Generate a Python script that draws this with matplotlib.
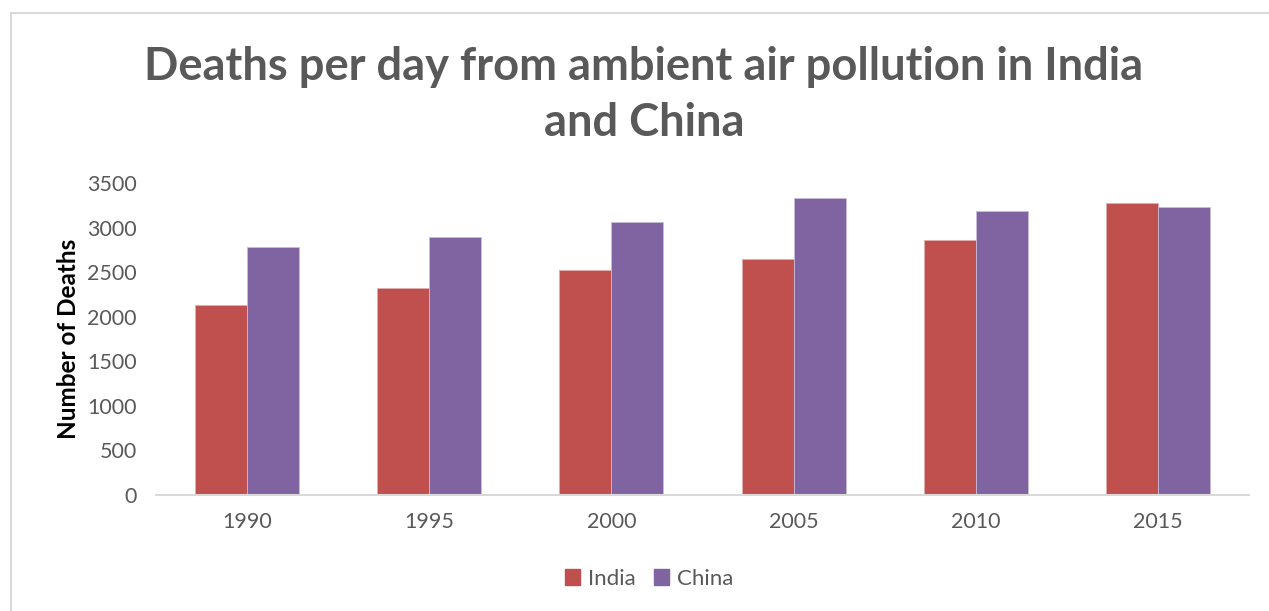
import numpy as np
import matplotlib
matplotlib.use('Agg')
import matplotlib.pyplot as plt
from matplotlib.lines import Line2D

#---------------------------------------------
# Data
#---------------------------------------------

years = ['1990', '1995', '2000', '2005', '2010', '2015']
india = [2130, 2320, 2525, 2650, 2857, 3276]
china = [2780, 2895, 3060, 3328, 3186, 3228]

india_color = '#C0504D'
china_color = '#8064A2'
text_gray = '#595959'

plt.rcParams['font.family'] = ['Lato', 'DejaVu Sans']

fig = plt.figure(figsize=(12.69, 6.11), dpi=100)
ax = fig.add_axes([156 / 1269, 1 - 495 / 611, 1093 / 1269, 312 / 611])

#---------------------------------------------
# Bars
#---------------------------------------------

x = np.arange(len(years))
width = 0.285
ax.bar(x - width / 2, india, width, color=india_color, label='India',
       edgecolor='#e0b0ae', linewidth=0.6)
ax.bar(x + width / 2, china, width, color=china_color, label='China',
       edgecolor='#c8bcd9', linewidth=0.6)

ax.set_xlim(-0.5, len(years) - 0.5)
ax.set_ylim(0, 3500)
ax.set_yticks(np.arange(0, 3501, 500))
ax.set_xticks(x)
ax.set_xticklabels(years)

for side in ['top', 'right', 'left']:
    ax.spines[side].set_visible(False)
ax.spines['bottom'].set_color('#d9d9d9')
ax.spines['bottom'].set_linewidth(1.5)

ax.tick_params(axis='both', length=0, labelsize=15.5, labelcolor=text_gray)
ax.tick_params(axis='y', pad=14)
ax.tick_params(axis='x', pad=12)

ax.set_ylabel('Number of Deaths', fontsize=17.5, fontweight='bold', color='black', labelpad=5)

#---------------------------------------------
# Title, legend and chart frame
#---------------------------------------------

fig.text(644 / 1269, 1 - 95 / 611, 'Deaths per day from ambient air pollution in India\nand China',
         ha='center', va='center', fontsize=32.6, fontweight='bold', color=text_gray,
         linespacing=1.42)

handles = [plt.Rectangle((0, 0), 1, 1, color=india_color),
           plt.Rectangle((0, 0), 1, 1, color=china_color)]
fig.legend(handles, ['India', 'China'], loc='center', bbox_to_anchor=(649 / 1269, 1 - 579 / 611),
           ncol=2, frameon=False, fontsize=16, labelcolor=text_gray,
           handlelength=0.7, handleheight=0.7, handletextpad=0.35, columnspacing=0.8)

fig.add_artist(Line2D([11 / 1269, 1], [1 - 13 / 611, 1 - 13 / 611], color='#d9d9d9', lw=1.5))
fig.add_artist(Line2D([11 / 1269, 11 / 1269], [0, 1 - 13 / 611], color='#d9d9d9', lw=1.5))

fig.savefig('out.png', dpi=100)
